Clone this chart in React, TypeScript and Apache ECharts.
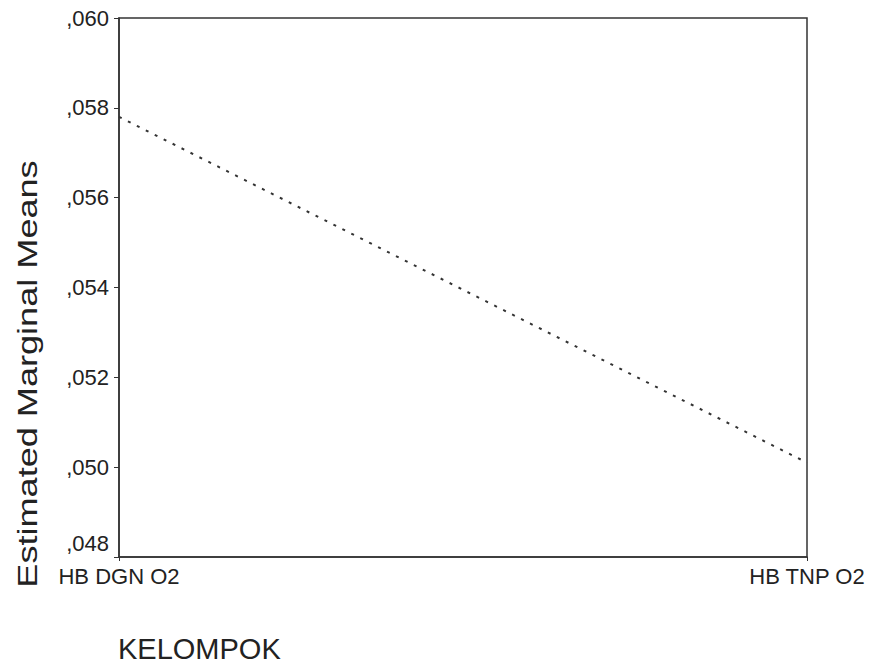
import React, { useEffect, useRef } from "react";
import * as echarts from "echarts";

const categories = ["HB DGN O2", "HB TNP O2"];
const meansValues = [0.0578, 0.0501];
const yTicks = { min: 0.048, max: 0.06, interval: 0.002 };
const yAxisTitle = "Estimated Marginal Means";
const xAxisTitle = "KELOMPOK";

export default function App() {
  const ref = useRef<HTMLDivElement>(null);
  useEffect(() => {
    if (!ref.current) return;
    const chart = echarts.init(ref.current, undefined, { renderer: "svg" });
    const font = "Arial, 'Liberation Sans', sans-serif";
    chart.setOption({
      animation: false,
      backgroundColor: "#ffffff",
      grid: {
        left: 119,
        right: 63,
        top: 18,
        bottom: 111,
        show: true,
        borderColor: "#333",
        borderWidth: 1.5,
        containLabel: false,
      },
      xAxis: {
        type: "category",
        data: categories,
        boundaryGap: false,
        axisLine: { show: true, lineStyle: { color: "#333", width: 1.5 } },
        axisTick: { show: true, length: 4, lineStyle: { color: "#333" } },
        axisLabel: {
          color: "#222",
          fontFamily: font,
          fontSize: 22,
          margin: 8,
          hideOverlap: false,
        },
        splitLine: { show: false },
      },
      yAxis: {
        type: "value",
        min: yTicks.min,
        max: yTicks.max,
        interval: yTicks.interval,
        axisLine: { show: true, lineStyle: { color: "#333", width: 1.5 } },
        axisTick: { show: true, length: 5, lineStyle: { color: "#333" } },
        axisLabel: {
          color: "#222",
          fontFamily: font,
          fontSize: 22,
          margin: 10,
          formatter: (v: number) => {
            const s = v.toFixed(3).replace("0.", ",");
            return Math.abs(v - yTicks.min) < 1e-9 ? "{low|" + s + "}" : s;
          },
          rich: {
            low: {
              fontFamily: font,
              fontSize: 22,
              color: "#222",
              padding: [0, 0, 28, 0],
            },
          },
        },
        splitLine: { show: false },
      },
      graphic: [
        {
          type: "text",
          x: 27,
          y: 374,
          rotation: Math.PI / 2,
          scaleX: 1.29,
          style: {
            text: yAxisTitle,
            fontFamily: font,
            fontSize: 28,
            fill: "#222",
            align: "center",
            verticalAlign: "middle",
          },
        },
        {
          type: "text",
          left: 118,
          top: 634,
          style: {
            text: xAxisTitle,
            fontFamily: font,
            fontSize: 29,
            fill: "#222",
          },
        },
      ],
      series: [
        {
          type: "line",
          data: meansValues,
          symbol: "none",
          lineStyle: { color: "#333", width: 2, type: [3, 7] },
        },
      ],
    });
    return () => chart.dispose();
  }, []);
  return (
    <div
      ref={ref}
      style={{ position: "fixed", left: 0, top: 0, width: 870, height: 668 }}
    />
  );
}
